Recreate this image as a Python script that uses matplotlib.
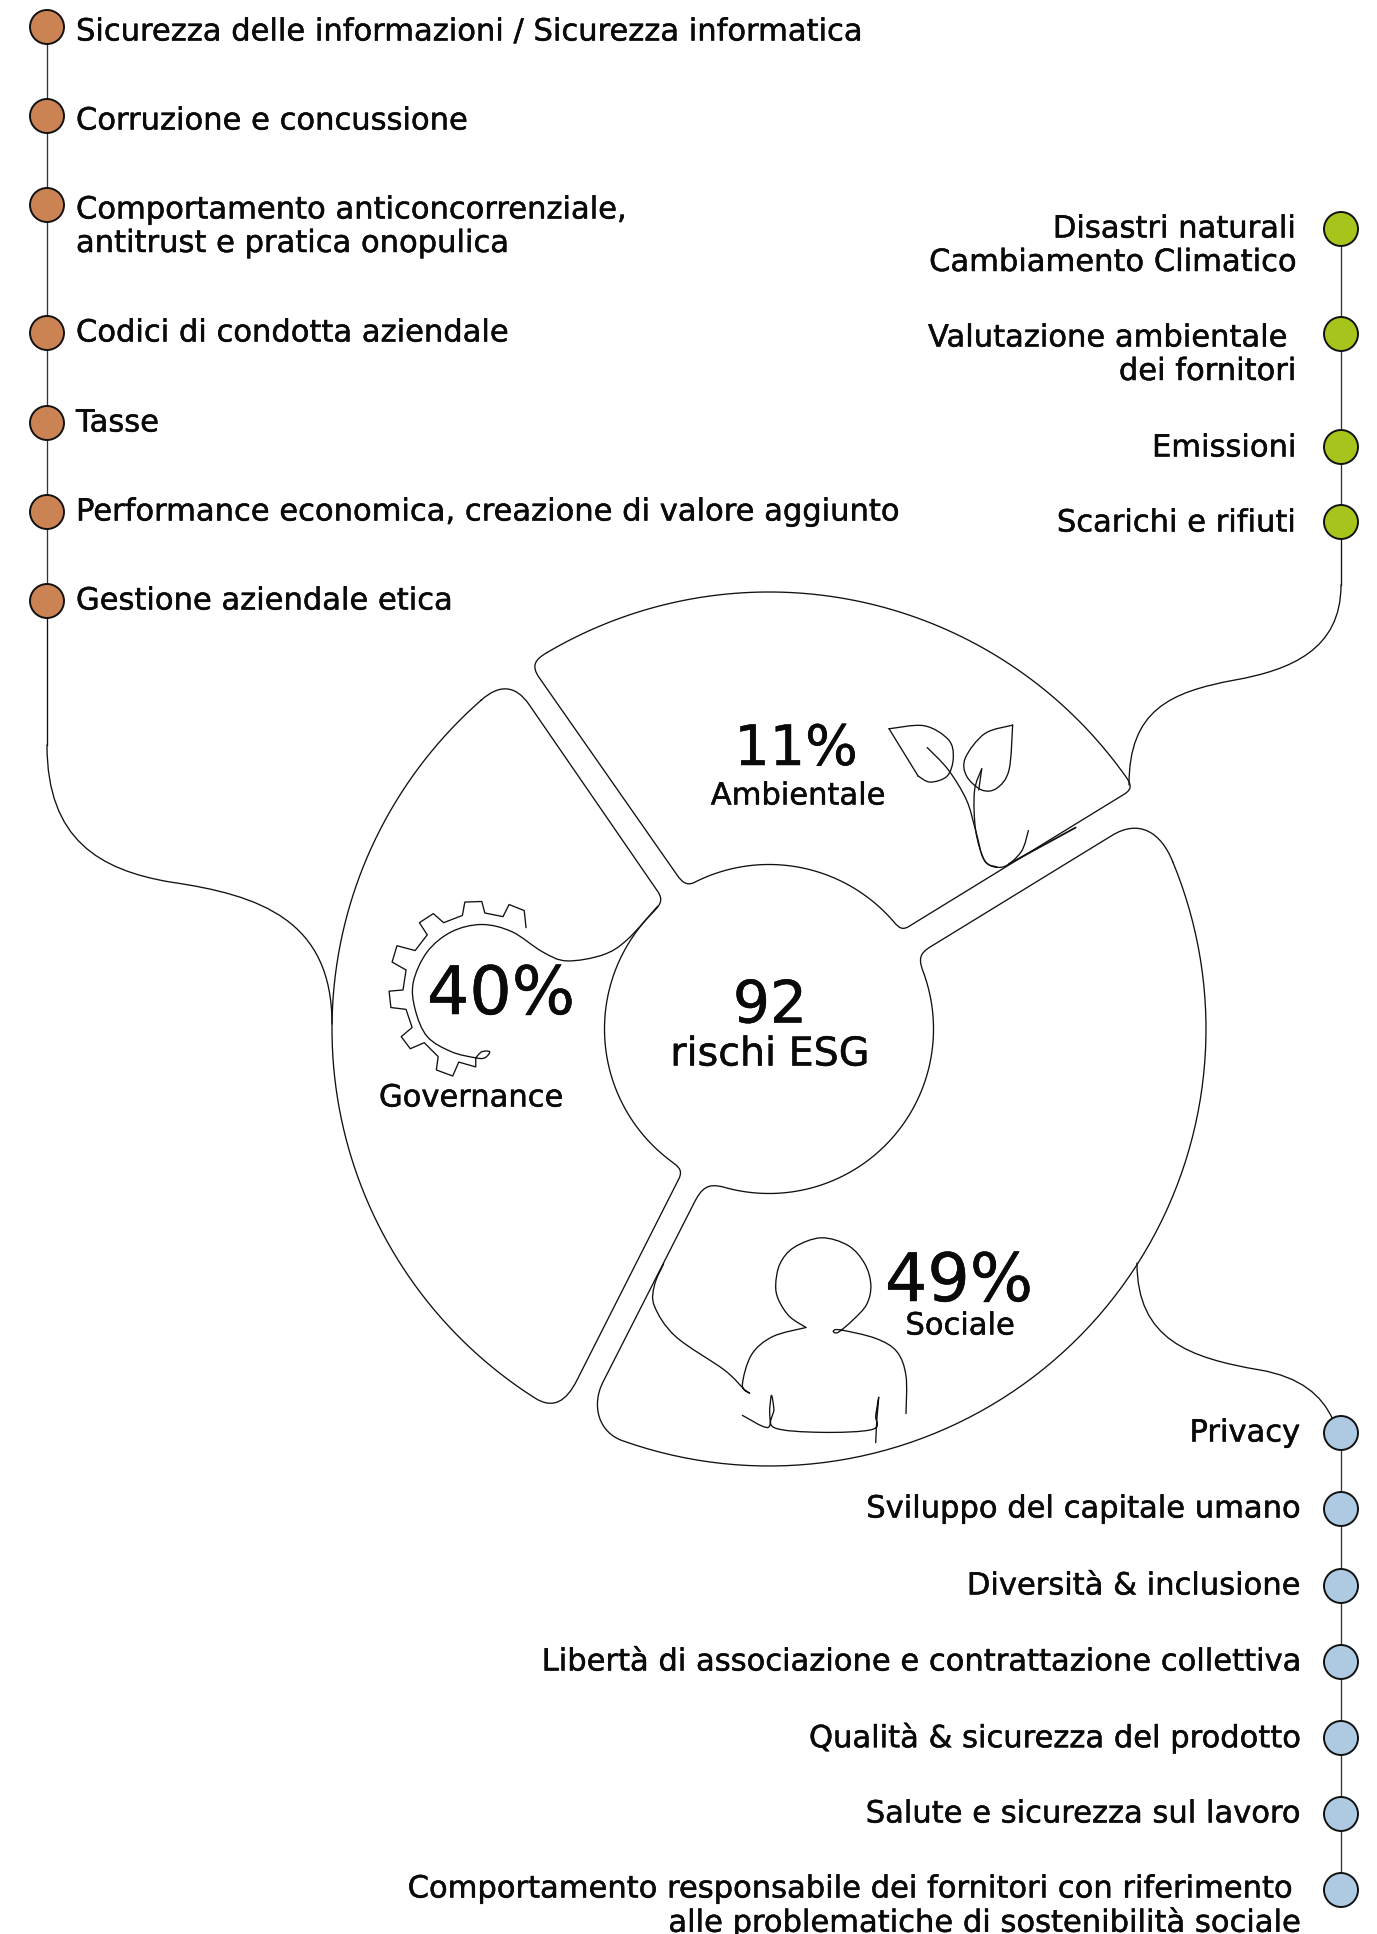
import numpy as np
from matplotlib import pyplot as plt
from matplotlib.path import Path
from matplotlib.patches import PathPatch, Circle
import matplotlib.patheffects as pe

# data
total = 92
total_label = "rischi ESG"
pillars = ["Ambientale", "Governance", "Sociale"]
shares = [11, 40, 49]

gov_items = ["Sicurezza delle informazioni / Sicurezza informatica",
             "Corruzione e concussione",
             "Comportamento anticoncorrenziale,\nantitrust e pratica onopulica",
             "Codici di condotta aziendale",
             "Tasse",
             "Performance economica, creazione di valore aggiunto",
             "Gestione aziendale etica"]
env_items = ["Disastri naturali\nCambiamento Climatico",
             "Valutazione ambientale \ndei fornitori",
             "Emissioni",
             "Scarichi e rifiuti"]
soc_items = ["Privacy",
             "Sviluppo del capitale umano",
             "Diversità & inclusione",
             "Libertà di associazione e contrattazione collettiva",
             "Qualità & sicurezza del prodotto",
             "Salute e sicurezza sul lavoro",
             "Comportamento responsabile dei fornitori con riferimento \nalle problematiche di sostenibilità sociale"]

# layout in pixels of the picture
W, H = 1377, 1934
CX, CY = 769, 1029
R_OUT, R_IN = 437, 164.5
gov_y = [27, 116, 205, 333, 423, 512, 601]
env_y = [229, 334, 447, 522]
soc_y = [1433, 1509, 1586, 1662, 1738, 1814, 1890]
gov_text_y = [29, 118, 207, 330, 420, 509, 598]
env_text_y = [226, 335, 445, 520]
soc_text_y = [1430, 1506, 1583, 1659, 1735, 1811, 1886]
LEFT_X, RIGHT_X = 47, 1341
DOT_R = 17
ORANGE, GREEN, BLUE = "#CB8353", "#A6C51C", "#ADCAE2"
INK = "#111111"
LW = 0.95

plt.rcParams['font.family'] = ['DejaVu Sans']

fig = plt.figure(figsize=(W / 100, H / 100), dpi=100)
ax = fig.add_axes([0, 0, 1, 1])
ax.set_xlim(0, W)
ax.set_ylim(H, 0)
ax.axis('off')


def z(x, y):
    # coords read on the 950px crop of the ring
    return (300 + x * 0.606, 570 + y * 0.606)


def zs(pts):
    return [z(*p) for p in pts]


def arc(a0, a1, r, n=80):
    t = np.radians(np.linspace(a0, a1, n))
    return list(zip(CX + r * np.cos(t), CY + r * np.sin(t)))


def spline_path(pts):
    # catmull-rom through the points
    p = np.array(pts, dtype=float)
    verts = [p[0]]
    codes = [Path.MOVETO]
    for i in range(len(p) - 1):
        p0 = p[max(i - 1, 0)]
        p1 = p[i]
        p2 = p[i + 1]
        p3 = p[min(i + 2, len(p) - 1)]
        verts += [p1 + (p2 - p0) / 6, p2 - (p3 - p1) / 6, p2]
        codes += [Path.CURVE4] * 3
    return Path(verts, codes)


def cubic(start, *rest):
    return Path([start] + list(rest), [Path.MOVETO] + [Path.CURVE4] * len(rest))


def draw(path, lw=LW, color=INK):
    ax.add_patch(PathPatch(path, fill=False, edgecolor=color, lw=lw, capstyle='round', joinstyle='round'))


def unit(a, b):
    d = np.array(b, dtype=float) - np.array(a, dtype=float)
    return d / np.hypot(*d)


def shape(parts, ks):
    # parts are arcs and straight edges, joined by rounded corners that keep their tangents
    verts = [parts[0][0]]
    codes = [Path.MOVETO]
    for i, part in enumerate(parts):
        verts += part[1:]
        codes += [Path.LINETO] * (len(part) - 1)
        nxt = parts[(i + 1) % len(parts)]
        p0 = np.array(part[-1], dtype=float)
        p3 = np.array(nxt[0], dtype=float)
        d = np.hypot(*(p3 - p0))
        c1 = p0 + unit(part[-2], part[-1]) * d * ks[i]
        c2 = p3 - unit(nxt[0], nxt[1]) * d * ks[i]
        verts += [c1, c2, p3]
        codes += [Path.CURVE4] * 3
    draw(Path(verts, codes))


# ring segments
shape([arc(-120.5, -36, R_OUT),
       [z(1360, 370), z(1005, 588)],
       arc(-40.4, -117, R_IN),
       [z(622, 503), z(395, 178)]],
      [0.55, 0.5, 0.45, 0.55])
shape([arc(228.8, 122.5, R_OUT),
       [z(457, 1337), z(625, 1005)],
       arc(128.2, 224.4, R_IN),
       [z(590, 530), z(378, 222)]],
      [0.5, 0.5, 0.5, 0.5])
shape([arc(-22.5, 109.5, R_OUT),
       [z(500, 1340), z(650, 1045)],
       arc(105.9, -20.8, R_IN),
       [z(1040, 622), z(1340, 438)]],
      [0.42, 0.5, 0.5, 0.48])

# gear, drawn as one line that runs into the segment corner
gear_teeth = [(373, 590), (370, 562), (345, 552), (335, 572), (305, 566), (300, 547), (272, 548), (268, 570),
              (237, 582), (220, 567), (197, 582), (210, 602), (190, 628), (160, 620), (152, 647), (175, 660),
              (170, 693), (147, 695), (150, 722), (175, 725), (185, 755), (167, 770), (182, 790), (205, 780),
              (228, 803), (225, 825), (252, 835), (262, 812), (290, 820), (290, 805)]
ax.plot(*zip(*zs(gear_teeth)), color=INK, lw=LW, solid_joinstyle='round')
gear_tail = [(290, 805), (300, 795), (313, 795), (305, 805), (290, 805), (250, 795), (210, 770), (190, 725),
             (187, 680), (210, 630), (250, 597), (300, 585), (350, 597), (400, 630), (440, 645), (500, 635),
             (540, 610), (590, 555)]
draw(spline_path(zs(gear_tail)))

# plant
draw(spline_path(zs([(972, 262), (1030, 257), (1070, 280), (1078, 310), (1068, 340), (1040, 350), (1020, 340)])))
ax.plot(*zip(*zs([(1020, 340), (972, 262)])), color=INK, lw=LW)
draw(spline_path(zs([(1176, 256), (1130, 270), (1098, 310), (1100, 340), (1125, 363), (1150, 360), (1170, 330), (1176, 256)])))
draw(spline_path(zs([(1035, 293), (1070, 330), (1100, 380), (1115, 430), (1130, 480), (1160, 490), (1190, 465), (1202, 430)])))
draw(spline_path(zs([(1125, 328), (1113, 365), (1115, 430), (1130, 480), (1150, 490)])))
draw(spline_path(zs([(1125, 328), (1120, 363)])))
draw(spline_path(zs([(1170, 485), (1280, 425)])), lw=1.3)

# person
draw(spline_path(zs([(835, 1250), (808, 1232), (790, 1205), (785, 1180), (792, 1145), (815, 1118), (860, 1102),
                     (905, 1115), (932, 1145), (942, 1180), (935, 1212), (912, 1238), (888, 1258), (880, 1256),
                     (892, 1254), (950, 1268), (985, 1290), (1000, 1330), (1000, 1392)])))
draw(spline_path(zs([(835, 1250), (780, 1265), (745, 1295), (730, 1345), (742, 1358), (733, 1352), (700, 1320),
                     (620, 1265), (585, 1215), (585, 1180), (600, 1145)])))
draw(spline_path(zs([(730, 1395), (772, 1415), (775, 1385), (778, 1362), (782, 1385), (782, 1415), (860, 1423),
                     (945, 1418), (950, 1395), (955, 1365), (952, 1400), (950, 1440)])))

# connectors
draw(cubic((LEFT_X, 745), (LEFT_X, 840), (100, 870), (170, 882), (260, 895), (332, 920), (332, 1024)))
ax.plot([LEFT_X, LEFT_X], [gov_y[-1], 745], color=INK, lw=LW)
draw(cubic((RIGHT_X, 585), (RIGHT_X, 650), (1290, 670), (1235, 680), (1170, 692), (1129, 710), (1129, 785)))
ax.plot([RIGHT_X, RIGHT_X], [env_y[-1], 585], color=INK, lw=LW)
draw(cubic((1137, 1263), (1137, 1340), (1190, 1358), (1260, 1370), (1300, 1377), (1322, 1395), (1333, 1420)))


def timeline(x, ys, color):
    ax.plot([x, x], [ys[0], ys[-1]], color='#333333', lw=LW, zorder=2)
    for y in ys:
        ax.add_patch(Circle((x, y), DOT_R, facecolor=color, edgecolor=INK, lw=1.4, zorder=3))


timeline(LEFT_X, gov_y, ORANGE)
timeline(RIGHT_X, env_y, GREEN)
timeline(RIGHT_X, soc_y, BLUE)


def label(x, y, s, size=22, ha='left', va='center_baseline'):
    t = ax.text(x, y, s, fontsize=size, ha=ha, va=va, color='#0a0a0a')
    t.set_path_effects([pe.withStroke(linewidth=0.35, foreground='#0a0a0a')])
    return t


def item_labels(items, ys, x, ha):
    line_gap = 33.5
    for s, y in zip(items, ys):
        for k, line in enumerate(s.split("\n")):
            edge = x
            if line.endswith(" "):
                edge = x - 9
            label(edge, y + k * line_gap, line.strip(), ha=ha)


item_labels(gov_items, gov_text_y, 76, 'left')
item_labels(env_items, env_text_y, 1296, 'right')
item_labels(soc_items, soc_text_y, 1300, 'right')

# ring texts
label(770, 1000, str(total), size=42, ha='center')
label(770, 1050, total_label, size=28.5, ha='center')

share_pos = [(796, 744), (501, 988), (959, 1275)]
share_size = [40, 48, 48]
name_pos = [(798, 793), (471, 1095), (960, 1323)]
for name, v, p, sz, q in zip(pillars, shares, share_pos, share_size, name_pos):
    label(p[0], p[1], f"{v}%", size=sz, ha='center')
    label(q[0], q[1], name, size=22, ha='center')

fig.savefig("out.png", dpi=100, facecolor='white')
